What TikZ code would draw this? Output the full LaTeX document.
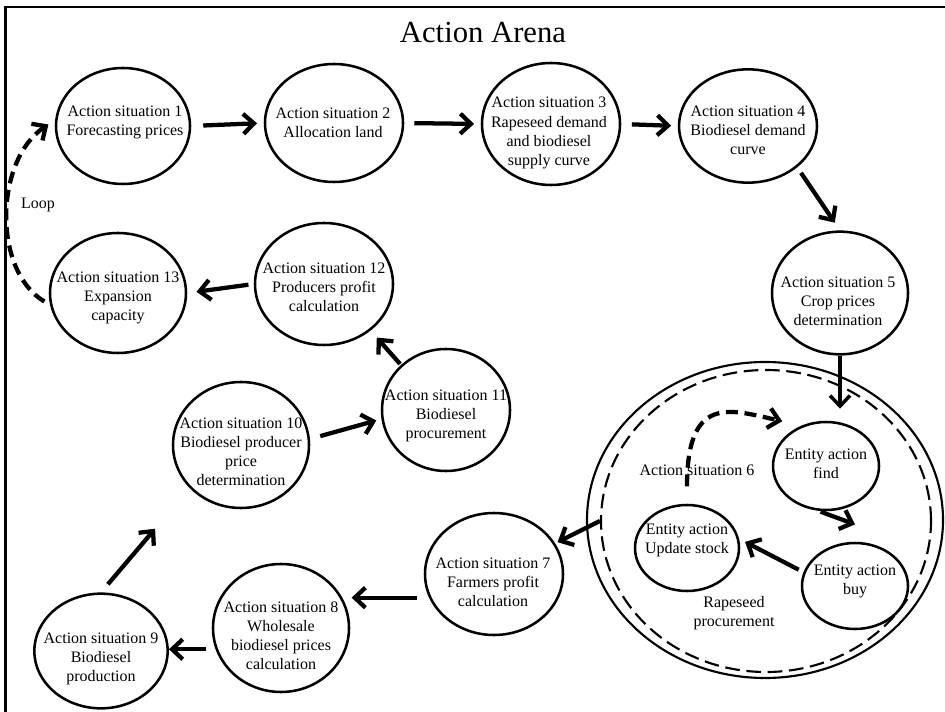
\documentclass[tikz,border=0pt]{standalone}
\usepackage{fontspec}
\setmainfont{Liberation Serif}
\usetikzlibrary{arrows.meta,shapes.geometric,calc}

\begin{document}
\begin{tikzpicture}[x=0.75pt,y=-0.75pt,
  situation/.style={draw, ellipse, line width=1.9pt, inner sep=0pt},
  caption/.style={font=\fontsize{12}{14.3}\selectfont, align=center, inner sep=0pt},
  flow/.style={line width=3.2pt, -{Straight Barb[length=8pt,width=15pt]}},
  dashflow/.style={flow, dash pattern=on 9pt off 5pt},
  arena/.style={draw, ellipse, line width=1.6pt, inner sep=0pt},
]
\useasboundingbox (0,0) rectangle (945,712);
\clip (0,0) rectangle (945,712);

% frame of the arena
\draw[line width=1.6pt] (5.5,7.3) rectangle (1000,800);
\node[font=\fontsize{23}{27}\selectfont, anchor=base, inner sep=0pt] (title) at (483,43) {Action Arena};

% action situations
\node[situation, minimum width=100.5pt, minimum height=87pt]  (as1)  at (123,126) {};
\node[situation, minimum width=103.5pt, minimum height=88.5pt](as2)  at (334,123) {};
\node[situation, minimum width=103.5pt, minimum height=91.5pt](as3)  at (551,124) {};
\node[situation, minimum width=103.5pt, minimum height=85pt]  (as4)  at (748,126) {};
\node[situation, minimum width=102pt, minimum height=92pt]    (as5)  at (840,293) {};
\node[situation, minimum width=103.5pt, minimum height=91.5pt](as7)  at (494,574) {};
\node[situation, minimum width=102pt, minimum height=96pt]    (as8)  at (281,628) {};
\node[situation, minimum width=100pt, minimum height=86pt]    (as9)  at (101,651) {};
\node[situation, minimum width=102pt, minimum height=94.5pt]  (as10) at (241,445) {};
\node[situation, minimum width=96pt, minimum height=91.5pt]   (as11) at (446,410) {};
\node[situation, minimum width=103.5pt, minimum height=91.5pt](as12) at (324,284) {};
\node[situation, minimum width=102pt, minimum height=90pt]    (as13) at (118,293) {};

\node[caption] (as1t)  at (125,122) {Action situation 1\\Forecasting prices};
\node[caption] (as2t)  at (333,123) {Action situation 2\\Allocation land};
\node[caption] (as3t)  at (549,133) {Action situation 3\\Rapeseed demand\\and biodiesel\\supply curve};
\node[caption] (as4t)  at (748,130) {Action situation 4\\Biodiesel demand\\curve};
\node[caption] (as5t)  at (838,301) {Action situation 5\\Crop prices\\determination};
\node[caption] (as7t)  at (493,582) {Action situation 7\\Farmers profit\\calculation};
\node[caption] (as8t)  at (281,636) {Action situation 8\\Wholesale\\biodiesel prices\\calculation};
\node[caption] (as9t)  at (101,659) {Action situation 9\\Biodiesel\\production};
\node[caption] (as10t) at (241,452) {Action situation 10\\Biodiesel producer\\price\\determination};
\node[caption] (as11t) at (446,416) {Action situation 11\\Biodiesel\\procurement};
\node[caption] (as12t) at (324,287) {Action situation 12\\Producers profit\\calculation};
\node[caption] (as13t) at (118,298) {Action situation 13\\Expansion\\capacity};

% action situation 6: rapeseed procurement
\node[arena, minimum width=267pt, minimum height=237pt] (rp) at (765,520) {};
\node[arena, dash pattern=on 11pt off 5pt, minimum width=247.5pt, minimum height=226.5pt] (rpd) at (766,521) {};
\node[caption] (as6t) at (697,470) {Action situation 6};
\node[caption] (rpt)  at (734,613) {Rapeseed\\procurement};

\node[situation, minimum width=79.5pt, minimum height=66pt] (find) at (826,466) {};
\node[situation, minimum width=78pt, minimum height=64.5pt] (upd)  at (687,548) {};
\node[situation, minimum width=79.5pt, minimum height=64.5pt](buy)  at (855,586) {};
\node[caption] (findt) at (826,464) {Entity action\\find};
\node[caption] (updt)  at (687,540) {Entity action\\Update stock};
\node[caption] (buyt)  at (855,581) {Entity action\\buy};

% flow between the situations
\draw[flow, shorten <=9pt, shorten >=5pt] (as1.east) -- (as2.west);
\draw[flow, shorten <=7.5pt, shorten >=5pt] (as2.east) -- (as3.west);
\draw[flow, shorten <=8pt, shorten >=5pt] (as3.east) -- (as4.west);
\draw[flow, shorten <=5pt, shorten >=7pt] (as4.-40) -- (as5.north);
\draw[flow, line width=2.6pt, shorten >=9pt] (as5.south) -- (as5.south |- find.north);
\draw[flow, shorten <=2pt] (find.-100) -- ([yshift=13pt]buy.north);
\draw[flow, shorten <=4pt, shorten >=5pt] (buy.165) -- (upd.10);
\draw[dashflow] ([yshift=13pt]upd.north) .. controls +(0,-92) and +(-53,-12) .. ([shift={(-6.75pt,7.5pt)}]find.135);
\draw[flow, shorten >=2pt] (rpd.west) -- (as7);
\draw[flow, shorten <=9pt, shorten >=1pt] (as7.200) -- (as7.200 -| as8.east);
\draw[flow, shorten <=7pt] (as8.198) -- (as8.198 -| as9.east);
\draw[flow, shorten <=8pt, shorten >=40pt] (as9.north) -- (as10.220);
\draw[flow, shorten <=8pt, shorten >=4pt] (as10.5) -- (as11.188);
\draw[flow, shorten <=1pt, shorten >=7pt] (as11.135) -- (as12.-45);
\draw[flow, shorten <=4pt, shorten >=7pt] (as12.west) -- (as13.east);

% loop back to the first situation
\draw[dashflow, shorten <=5pt, shorten >=6pt] (as13.190) .. controls (-8,270) and (-5,160) .. (as1.175);
\node[caption] (loop) at (38,205) {Loop};
\end{tikzpicture}
\end{document}
